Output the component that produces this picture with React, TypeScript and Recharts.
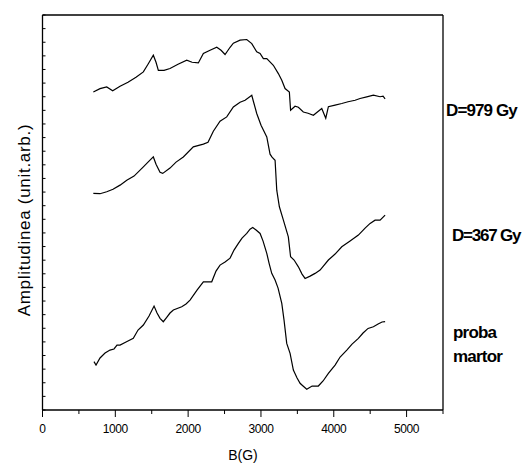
import React from 'react';
import { LineChart, Line, XAxis, YAxis } from 'recharts';

// B field (G) and amplitude (arb. units)
const bField979 = [698, 790, 882, 964, 1065, 1174, 1284, 1385, 1449, 1522, 1559, 1591, 1669, 1751, 1861, 1981, 2054, 2140, 2209, 2301, 2393, 2452, 2507, 2576, 2621, 2713, 2805, 2874, 2942, 2988, 3033, 3080, 3170, 3239, 3286, 3331, 3390, 3407, 3468, 3514, 3582, 3647, 3720, 3771, 3835, 3890, 3926, 4018, 4110, 4196, 4293, 4361, 4453, 4544, 4636, 4677, 4705];
const amp979 = [23.35, 23.59, 23.72, 23.43, 23.77, 24.06, 24.43, 24.82, 25.38, 26.05, 25.53, 24.94, 24.94, 25.07, 25.38, 25.68, 25.53, 25.48, 26.17, 26.41, 26.63, 26.41, 26.10, 26.63, 26.93, 27.15, 27.20, 26.90, 26.29, 26.17, 25.80, 25.80, 25.31, 24.70, 24.21, 23.60, 23.35, 22.01, 22.30, 22.23, 21.88, 21.79, 21.64, 21.86, 22.13, 21.42, 22.27, 22.38, 22.50, 22.63, 22.74, 22.87, 22.99, 23.11, 23.00, 23.04, 22.85];

const bField367 = [698, 790, 882, 968, 1065, 1157, 1257, 1385, 1449, 1522, 1559, 1614, 1651, 1751, 1834, 1934, 2071, 2209, 2273, 2346, 2438, 2530, 2621, 2713, 2782, 2874, 2892, 2942, 3001, 3080, 3125, 3152, 3194, 3217, 3253, 3308, 3376, 3407, 3455, 3514, 3564, 3606, 3675, 3743, 3812, 3926, 4018, 4110, 4224, 4338, 4430, 4499, 4567, 4636, 4705];
const amp367 = [15.90, 15.88, 16.02, 16.21, 16.51, 16.87, 17.17, 17.85, 18.20, 18.58, 18.05, 17.46, 17.37, 17.76, 18.20, 18.58, 19.32, 19.52, 19.66, 20.47, 21.20, 21.52, 22.25, 22.60, 22.74, 23.11, 22.74, 21.77, 20.91, 20.05, 18.78, 18.56, 18.34, 16.14, 14.92, 13.94, 12.71, 11.25, 11.01, 10.51, 9.98, 9.66, 9.83, 10.03, 10.27, 11.01, 11.45, 11.98, 12.40, 12.84, 13.35, 13.70, 13.94, 13.94, 14.31];

const bFieldControl = [707, 735, 790, 859, 927, 982, 1023, 1065, 1147, 1247, 1312, 1385, 1463, 1532, 1573, 1614, 1659, 1706, 1751, 1797, 1912, 1971, 2026, 2122, 2209, 2324, 2383, 2438, 2507, 2576, 2630, 2690, 2740, 2805, 2850, 2887, 2933, 2988, 3029, 3080, 3111, 3148, 3194, 3235, 3286, 3317, 3354, 3400, 3445, 3496, 3537, 3578, 3629, 3702, 3788, 3853, 3926, 4018, 4087, 4179, 4251, 4338, 4402, 4471, 4544, 4609, 4663, 4705];
const ampControl = [3.55, 3.30, 3.82, 4.18, 4.40, 4.48, 4.77, 4.77, 4.99, 5.26, 5.87, 6.24, 6.90, 7.63, 7.12, 6.73, 6.48, 6.80, 7.12, 7.34, 7.58, 7.78, 8.07, 8.80, 9.41, 9.41, 10.20, 10.64, 10.86, 11.15, 11.74, 12.23, 12.62, 12.96, 13.28, 13.40, 13.21, 12.96, 12.40, 11.50, 10.79, 10.03, 9.54, 8.95, 7.83, 6.60, 4.89, 4.16, 2.93, 2.35, 1.96, 1.76, 1.52, 1.76, 1.76, 2.13, 2.69, 3.30, 3.89, 4.40, 4.84, 5.26, 5.65, 5.99, 6.11, 6.31, 6.46, 6.49];

const xMajorTicks = [0, 1000, 2000, 3000, 4000, 5000];
const xTicks = [0, 500, 1000, 1500, 2000, 2500, 3000, 3500, 4000, 4500, 5000, 5500];
const yTicks = [0, 1, 2, 3, 4, 5, 6, 7, 8, 9, 10, 11, 12, 13, 14, 15, 16, 17, 18, 19, 20, 21, 22, 23, 24, 25, 26, 27, 28, 29];

const seriesLabels = ['D=979 Gy', 'D=367 Gy', 'proba', 'martor'];
const xTitle = 'B(G)';
const yTitle = 'Amplitudinea (unit.arb.)';

const zip = (xs: number[], ys: number[]) => xs.map((b, i) => ({ b, a: ys[i] }));
const data979 = zip(bField979, amp979);
const data367 = zip(bField367, amp367);
const dataControl = zip(bFieldControl, ampControl);

const FONT = 'Arial, "Liberation Sans", sans-serif';
const X_DOMAIN: [number, number] = [0, 5500];
const Y_DOMAIN: [number, number] = [0, 29];
const empty = () => '';
const TICK_SIZE = 7;
const TICK_MARGIN = 8;

const BottomTick = (props: any) => {
  const { x, y, payload } = props;
  const axisY = y - TICK_SIZE - TICK_MARGIN;
  const isMajor = xMajorTicks.includes(payload.value);
  return (
    <g>
      <line x1={x} x2={x} y1={axisY} y2={axisY + (isMajor ? 7 : 4)} stroke="#000" strokeWidth={1} />
      {isMajor && (
        <text x={x} y={axisY + 23} textAnchor="middle" fontSize={12} fontFamily={FONT} fill="#000" letterSpacing={-0.4}>
          {payload.value}
        </text>
      )}
    </g>
  );
};

const labelStyle = { fontSize: 17, fontWeight: 'bold' as const, fontFamily: FONT, fill: '#000' };

export default function App() {
  return (
    <div style={{ position: 'absolute', left: 0, top: 0, width: 524, height: 467, background: '#fff' }}>
      <LineChart width={524} height={467} margin={{ top: 14, right: 80, bottom: 56, left: 41.5 }}>
        <XAxis xAxisId="bottom" type="number" dataKey="b" domain={X_DOMAIN} ticks={xTicks}
          orientation="bottom" height={1} tickSize={TICK_SIZE} tickMargin={TICK_MARGIN} tickLine={false}
          tick={<BottomTick />} interval={0}
          axisLine={{ stroke: '#000', strokeWidth: 1.3 }} />
        <XAxis xAxisId="top" type="number" dataKey="b" domain={X_DOMAIN} ticks={xTicks}
          orientation="top" height={1} tickSize={-4} tickFormatter={empty} interval={0}
          axisLine={{ stroke: '#000', strokeWidth: 1.3 }} tickLine={{ stroke: '#000', strokeWidth: 1 }} />
        <YAxis yAxisId="left" type="number" domain={Y_DOMAIN} ticks={yTicks} orientation="left"
          width={1} tickSize={-3} tickFormatter={empty} interval={0}
          axisLine={{ stroke: '#000', strokeWidth: 1.3 }} tickLine={{ stroke: '#000', strokeWidth: 1 }} />
        <YAxis yAxisId="right" type="number" domain={Y_DOMAIN} ticks={yTicks} orientation="right"
          width={1} tickSize={-3} tickFormatter={empty} interval={0}
          axisLine={{ stroke: '#000', strokeWidth: 1.3 }} tickLine={{ stroke: '#000', strokeWidth: 1 }} />
        <Line data={data979} xAxisId="bottom" yAxisId="left" dataKey="a" type="linear" stroke="#000"
          strokeWidth={1.2} dot={false} activeDot={false} isAnimationActive={false} />
        <Line data={data367} xAxisId="bottom" yAxisId="left" dataKey="a" type="linear" stroke="#000"
          strokeWidth={1.2} dot={false} activeDot={false} isAnimationActive={false} />
        <Line data={dataControl} xAxisId="bottom" yAxisId="left" dataKey="a" type="linear" stroke="#000"
          strokeWidth={1.2} dot={false} activeDot={false} isAnimationActive={false} />
        <text x={243} y={460} textAnchor="middle" fontSize={14} fontFamily={FONT} fill="#000">{xTitle}</text>
        <text x={0} y={0} transform="translate(30,220) rotate(-90)" textAnchor="middle" fontSize={17}
          fontFamily={FONT} fill="#000" letterSpacing={0.7}>{yTitle}</text>
        <text x={446} y={116} {...labelStyle} letterSpacing={-0.9}>{seriesLabels[0]}</text>
        <text x={452} y={241} {...labelStyle} letterSpacing={-1.2}>{seriesLabels[1]}</text>
        <text x={453} y={338} {...labelStyle} letterSpacing={-0.8}>{seriesLabels[2]}</text>
        <text x={453} y={362} {...labelStyle} letterSpacing={-0.8}>{seriesLabels[3]}</text>
      </LineChart>
    </div>
  );
}
